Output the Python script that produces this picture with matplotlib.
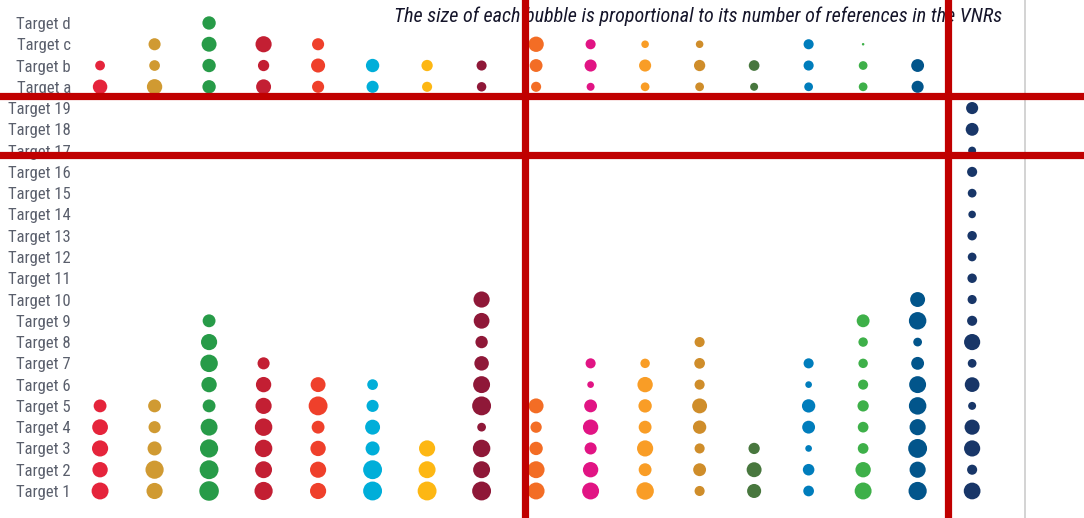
import matplotlib
matplotlib.use("Agg")
import matplotlib.pyplot as plt
from matplotlib import font_manager

# ---------------- data ----------------
goals = [f"SDG {i}" for i in range(1, 18)]
row_labels = [f"Target {i}" for i in range(1, 20)] + ["Target a", "Target b", "Target c", "Target d"]

# number of references per numeric target (Target 1, 2, ...)
sdg01 = [45, 37, 41, 39, 26]
sdg02 = [41, 52, 31, 23, 26]
sdg03 = [60, 56, 52, 45, 26, 37, 48, 41, 26]
sdg04 = [52, 45, 48, 48, 41, 37, 23]
sdg05 = [41, 41, 37, 26, 56, 35]
sdg06 = [56, 56, 31, 35, 23, 18]
sdg07 = [56, 45, 41]
sdg08 = [56, 45, 48, 12, 56, 45, 33, 24, 39, 41]
sdg09 = [45, 45, 28, 20, 35]
sdg10 = [45, 37, 23, 37, 26, 7, 16]
sdg11 = [48, 26, 41, 26, 28, 37, 14]
sdg12 = [16, 26, 16, 28, 35, 16, 18, 16]
sdg13 = [31, 35, 20]
sdg14 = [18, 21, 7, 26, 28, 7, 16]
sdg15 = [45, 37, 18, 18, 20, 16, 14, 14, 26]
sdg16 = [52, 41, 56, 41, 48, 45, 26, 12, 48, 35]
sdg17 = [44, 16, 41, 36, 10, 34, 12, 41, 16, 13, 14, 12, 14, 9, 12, 16, 10, 26, 23]

# number of references per lettered target (a, b, c, d); None = no such target
sdg01_abc = [33, 15, None, None]
sdg02_abc = [37, 18, 23, None]
sdg03_abc = [28, 28, 35, 28]
sdg04_abc = [35, 20, 41, None]
sdg05_abc = [23, 31, 23, None]
sdg06_abc = [23, 28, None, None]
sdg07_abc = [16, 20, None, None]
sdg08_abc = [14, 16, None, None]
sdg09_abc = [16, 26, 37, None]
sdg10_abc = [10, 23, 16, None]
sdg11_abc = [12, 23, 9, None]
sdg12_abc = [12, 20, 9, None]
sdg13_abc = [10, 18, None, None]
sdg14_abc = [12, 16, 16, None]
sdg15_abc = [12, 12, 1, None]
sdg16_abc = [23, 26, None, None]
sdg17_abc = [None, None, None, None]

colors = ["#e5243b", "#d09a32", "#279b48", "#c31f33", "#ef402b", "#00aed9",
          "#fdb713", "#8f1838", "#f36d25", "#e11484", "#f99d26", "#cf8d2a",
          "#48773e", "#007dbc", "#3eb049", "#02558b", "#183668"]

numeric = [sdg01, sdg02, sdg03, sdg04, sdg05, sdg06, sdg07, sdg08, sdg09,
           sdg10, sdg11, sdg12, sdg13, sdg14, sdg15, sdg16, sdg17]
lettered = [sdg01_abc, sdg02_abc, sdg03_abc, sdg04_abc, sdg05_abc, sdg06_abc,
            sdg07_abc, sdg08_abc, sdg09_abc, sdg10_abc, sdg11_abc, sdg12_abc,
            sdg13_abc, sdg14_abc, sdg15_abc, sdg16_abc, sdg17_abc]

title = "The size of each bubble is proportional to its number of references in the VNRs"

# ---------------- fonts ----------------
avail = {f.name for f in font_manager.fontManager.ttflist}
cond = None
for cand in ["Roboto Condensed", "Liberation Sans Narrow"]:
    if cand in avail:
        cond = cand
        break
if cond is None:
    label_font, label_size = "Roboto", 10.7
    title_font, title_size = "Roboto", 13.0
else:
    label_font, label_size = cond, 12
    title_font, title_size = cond, 14.5

# ---------------- figure ----------------
W, H = 1084, 518
fig = plt.figure(figsize=(W / 100, H / 100), dpi=100)
ax = fig.add_axes([75 / W, 0, 950 / W, 1])

SIZE_K = 3.3  # points^2 per reference
for gi, (num, let) in enumerate(zip(numeric, lettered)):
    xs, ys, ss = [], [], []
    for ti, v in enumerate(num):
        xs.append(gi + 1); ys.append(ti); ss.append(v * SIZE_K)
    for li, v in enumerate(let):
        if v is not None:
            xs.append(gi + 1); ys.append(19 + li); ss.append(v * SIZE_K)
    ax.scatter(xs, ys, s=ss, color=colors[gi], linewidths=0, zorder=3)

ax.set_xlim(0.54, 17.97)
ax.set_ylim(-1.27, 23.08)
ax.set_xticks([])
ax.set_yticks(range(len(row_labels)))
ax.set_yticklabels(row_labels, fontsize=label_size, color="#5a5f6c",
                   family=[label_font, "DejaVu Sans"])
ax.tick_params(axis="y", length=0, pad=3)
for side in ["left", "top", "bottom"]:
    ax.spines[side].set_visible(False)
ax.spines["right"].set_color("#cccccc")
ax.spines["right"].set_linewidth(1.2)

ax.text(11.97, 22.3, title, ha="center", va="center", fontsize=title_size,
        style="italic", color="#15152a", family=[title_font, "DejaVu Sans"], zorder=4)

# red highlight lines
red = "#c00000"
for xv in [8.80, 16.56]:
    ax.axvline(xv, color=red, lw=5.2, zorder=5, clip_on=False)
for yv in [18.57, 15.80]:
    ax.axhline(yv, xmin=-0.08, xmax=1.07, color=red, lw=5.2, zorder=5, clip_on=False)

fig.savefig("out.png", dpi=100)
